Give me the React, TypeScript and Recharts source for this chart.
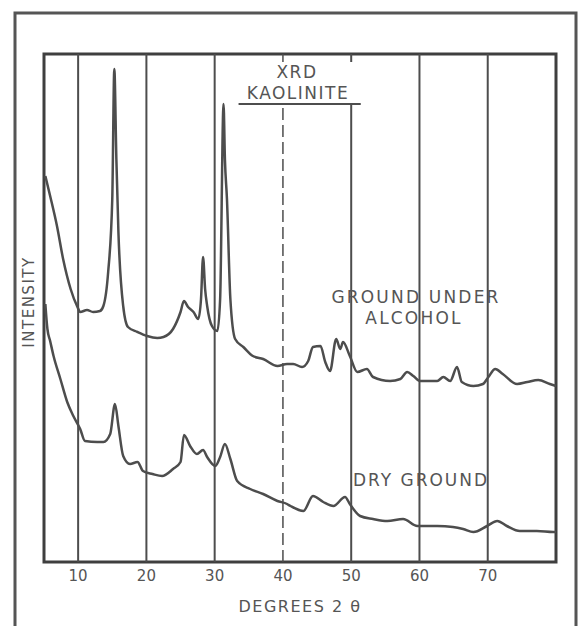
import React from "react";
import {
  LineChart,
  Line,
  XAxis,
  YAxis,
  ReferenceLine,
  ReferenceArea,
} from "recharts";

// x ticks (degrees 2 theta)
const ticks = [10, 20, 30, 40, 50, 60, 70];

// GROUND UNDER ALCOHOL trace
const alcoholDeg = [
  5.2, 5.9, 6.9, 7.8, 8.9, 9.9, 10.3, 11.3, 12.2, 13.2, 13.7, 14.4, 15.0, 15.3,
  15.6, 15.9, 16.6, 17.3, 18.7, 20.1, 21.6, 22.5, 23.9, 25.0, 25.5, 26.1, 26.9,
  27.6, 28.0, 28.3, 28.6, 28.9, 29.6, 30.4, 30.8, 31.3, 31.5, 31.8, 32.3, 33.0,
  34.2, 35.6, 37.1, 39.2, 40.6, 41.5, 42.8, 43.7, 44.4, 45.5, 46.2, 46.9, 47.8,
  48.4, 48.8, 49.8, 50.9, 52.3, 53.2, 55.7, 57.2, 58.2, 59.1, 60.1, 62.6, 63.5,
  64.5, 65.5, 66.2, 67.9, 69.3, 70.1, 71.1, 72.2, 74.3, 75.8, 77.4, 79.1, 80,
];
const alcoholInt = [
  386, 366, 336, 303, 273, 255, 250, 252, 250, 251, 256, 290, 363, 493, 403,
  330, 256, 235, 230, 226, 224, 225, 233, 250, 261, 255, 250, 243, 263, 305,
  273, 256, 236, 231, 263, 458, 403, 363, 263, 223, 215, 206, 203, 196, 198,
  198, 195, 201, 215, 216, 200, 191, 223, 213, 220, 206, 190, 193, 185, 181,
  183, 190, 186, 181, 181, 185, 181, 195, 180, 176, 178, 185, 193, 188, 178,
  180, 182, 178, 176,
];

// DRY GROUND trace
const dryDeg = [
  5.2, 5.5, 5.9, 6.4, 7.4, 8.4, 9.3, 10.3, 11.0, 12.8, 13.7, 14.7, 15.4, 15.9,
  16.6, 17.6, 18.7, 19.5, 20.9, 22.3, 23.9, 25.0, 25.5, 26.4, 27.4, 28.3, 28.9,
  30.1, 30.8, 31.5, 32.3, 33.3, 35.2, 37.1, 39.2, 40.6, 41.1, 43.0, 44.4, 45.9,
  47.4, 49.1, 49.8, 51.3, 53.2, 55.3, 57.6, 59.7, 62.6, 64.9, 66.4, 67.9, 69.9,
  71.4, 72.8, 74.7, 77.2, 79.6, 80,
];
const dryInt = [
  258, 233, 221, 206, 183, 160, 146, 133, 121, 120, 120, 128, 158, 136, 106,
  98, 100, 91, 88, 86, 93, 100, 127, 116, 108, 112, 105, 96, 105, 118, 103, 81,
  73, 68, 61, 58, 56, 51, 66, 60, 56, 65, 58, 46, 43, 41, 43, 36, 36, 35, 33,
  30, 36, 41, 36, 31, 31, 30, 30,
];

const alcoholData = alcoholDeg.map((d, i) => ({ deg: d, v: alcoholInt[i] }));
const dryData = dryDeg.map((d, i) => ({ deg: d, v: dryInt[i] }));

const ink = "#4d4d4d";
const font = "'DejaVu Sans', sans-serif";

export default function App() {
  return (
    <div
      style={{
        position: "absolute",
        left: 0,
        top: 0,
        width: 580,
        height: 626,
        background: "#fff",
      }}
    >
      <LineChart
        width={580}
        height={626}
        margin={{ top: 54, right: 24, left: 44, bottom: 34 }}
      >
        <XAxis
          type="number"
          dataKey="deg"
          domain={[5, 80]}
          ticks={ticks}
          axisLine={false}
          tickLine={false}
          height={30}
          tick={{ fill: "#555", fontSize: 15, fontFamily: font }}
          allowDuplicatedCategory={false}
        />
        <YAxis type="number" domain={[0, 508]} hide />
        {ticks
          .filter((t) => t !== 40 && t !== 50)
          .map((t) => (
            <ReferenceLine key={t} x={t} stroke={ink} strokeWidth={2} />
          ))}
        <ReferenceLine
          segment={[{ x: 40, y: 0 }, { x: 40, y: 458 }]}
          stroke={ink}
          strokeWidth={1.5}
          strokeDasharray="12 5"
        />
        <ReferenceLine
          segment={[{ x: 40, y: 500 }, { x: 40, y: 508 }]}
          stroke={ink}
          strokeWidth={1.5}
        />
        <ReferenceLine
          segment={[{ x: 50, y: 0 }, { x: 50, y: 458 }]}
          stroke={ink}
          strokeWidth={2}
        />
        <ReferenceLine
          segment={[{ x: 50, y: 500 }, { x: 50, y: 508 }]}
          stroke={ink}
          strokeWidth={2}
        />
        <ReferenceLine
          segment={[{ x: 33.5, y: 458 }, { x: 51.4, y: 458 }]}
          stroke={ink}
          strokeWidth={2}
        />
        <ReferenceArea
          x1={5}
          x2={80}
          y1={0}
          y2={508}
          fill="none"
          stroke="#3f3f3f"
          strokeWidth={3}
          ifOverflow="visible"
        />
        <Line
          data={alcoholData}
          dataKey="v"
          type="monotone"
          stroke={ink}
          strokeWidth={2.5}
          dot={false}
          isAnimationActive={false}
        />
        <Line
          data={dryData}
          dataKey="v"
          type="monotone"
          stroke={ink}
          strokeWidth={2.5}
          dot={false}
          isAnimationActive={false}
        />
      </LineChart>
      <svg
        width={580}
        height={626}
        style={{ position: "absolute", left: 0, top: 0, pointerEvents: "none" }}
      >
        <polyline
          points="15,626 15,13 576,13 576,626"
          fill="none"
          stroke="#555"
          strokeWidth={3}
        />
        <g fill="#555" fontFamily={font} fontSize={17}>
          <text x={297} y={78} textAnchor="middle" letterSpacing={1.5}>
            XRD
          </text>
          <text x={298} y={99} textAnchor="middle" letterSpacing={1.5}>
            KAOLINITE
          </text>
          <text x={416} y={303} textAnchor="middle" letterSpacing={2.2}>
            GROUND UNDER
          </text>
          <text x={414} y={324} textAnchor="middle" letterSpacing={2.2}>
            ALCOHOL
          </text>
          <text x={421} y={486} textAnchor="middle" letterSpacing={2}>
            DRY GROUND
          </text>
          <text
            x={0}
            y={0}
            textAnchor="middle"
            fontSize={15}
            letterSpacing={1.5}
            transform="translate(34 302) rotate(-90)"
          >
            INTENSITY
          </text>
          <text x={300} y={612} textAnchor="middle" fontSize={16} letterSpacing={1.5}>
            DEGREES 2 θ
          </text>
        </g>
      </svg>
    </div>
  );
}
